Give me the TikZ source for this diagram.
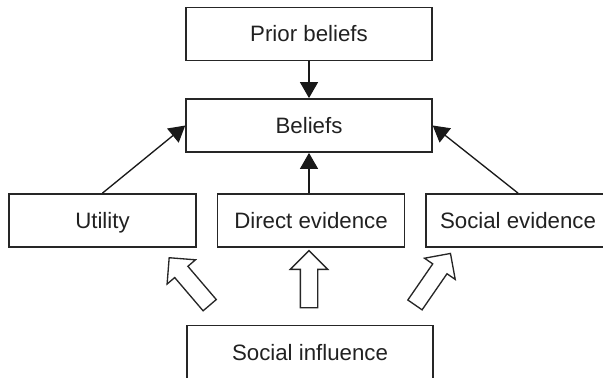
\documentclass[tikz,border=0pt]{standalone}
\usepackage{fontspec}
\setmainfont{Liberation Sans}
\usetikzlibrary{arrows.meta,shapes.arrows}

\begin{document}
\begin{tikzpicture}[x=0.75pt,y=0.75pt,
  box/.style={draw=black!85, text=black!87, line width=1.1pt, minimum height=40pt,
    inner sep=0pt, text height=12pt, text depth=0pt, font=\fontsize{16.7}{20}\selectfont},
  wide/.style={box, minimum width=184.5pt},
  narrow/.style={box, minimum width=140pt},
  link/.style={draw=black!90, line width=1pt, -{Triangle[length=12pt,width=13.5pt]}},
  fat/.style={single arrow, draw=black!85, line width=1pt, inner xsep=0pt,
    inner ysep=6pt, single arrow head extend=7.5pt}]
\useasboundingbox (0,0) rectangle (603,-378);
\clip (0,0) rectangle (603,-378);

% boxes
\node[wide] (prior) at (309,-34) {Prior beliefs};
\node[wide] (beliefs) at (309,-125.5) {Beliefs};
\node[narrow] (utility) at (102.5,-220.5) {Utility};
\node[narrow] (direct) at (311,-220.5) {Direct evidence};
\node[box, minimum width=138pt] (social) at (518,-220.5) {Social evidence};
\node[wide] (influence) at (310,-352) {Social influence};

% thin arrows into beliefs
\draw[link] (prior) -- (beliefs);
\draw[link] (utility.north) -- (beliefs.west);
\draw[link] (direct.north -| beliefs) -- (beliefs.south);
\draw[link] (social.north) -- (beliefs.east);

% hollow arrows out of social influence
\node[fat, minimum height=46.8pt, rotate=130.5] (toutility) at (192.25,-284.75) {};
\node[fat, minimum height=42.75pt, rotate=90] (todirect) at (309,-283.5) {};
\node[fat, minimum height=46.9pt, rotate=55.4] (tosocial) at (430.25,-282.75) {};
\end{tikzpicture}
\end{document}
